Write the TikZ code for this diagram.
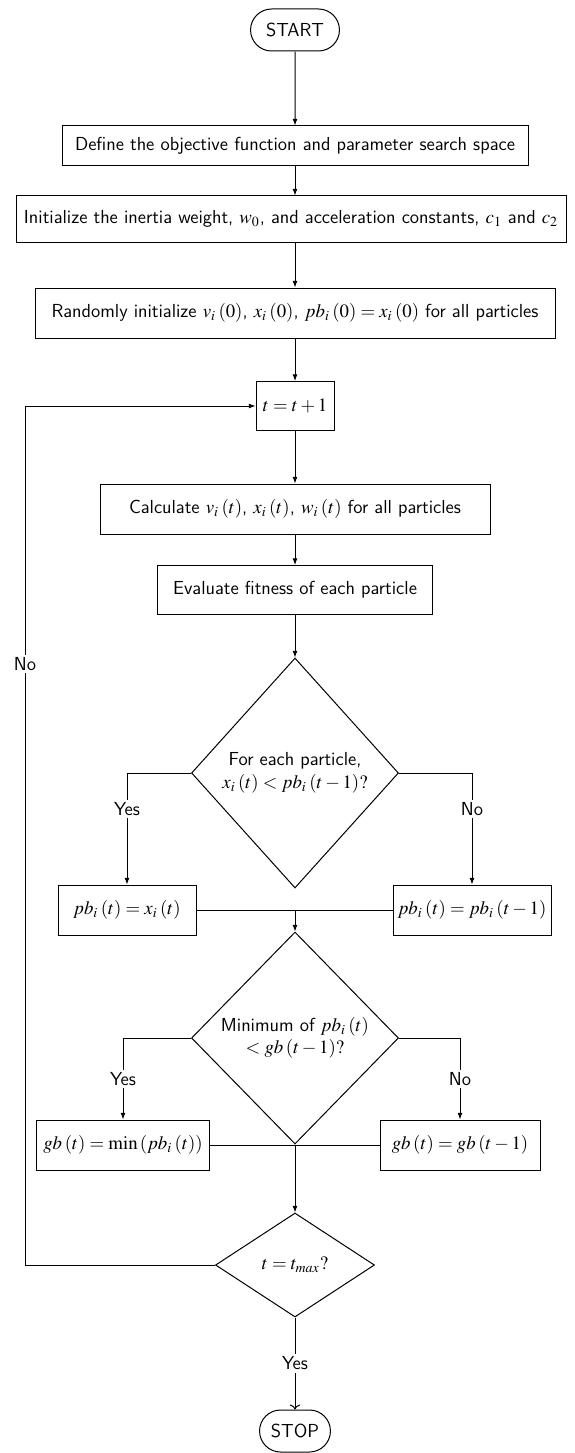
\documentclass[tikz,border=0pt]{standalone}
\usepackage{mathptmx}
\usetikzlibrary{shapes.geometric,shapes.misc,arrows.meta}
\newcommand\gp{\mkern2.5mu}
\begin{document}
\begin{tikzpicture}[x=0.6pt,y=-0.6pt,
  font=\sffamily\fontsize{11.3}{13.5}\selectfont,
  line width=0.6pt,
  box/.style={draw,rectangle,inner sep=1.5pt,align=center,minimum height=30pt},
  term/.style={draw,rounded rectangle,align=center,minimum width=60pt,minimum height=25.2pt},
  dec/.style={draw,diamond,inner sep=0pt,align=center},
  arr/.style={-{Latex[length=4pt,width=3pt]}},
  lbl/.style={fill=white,inner sep=1.5pt}]
\useasboundingbox (0,0) rectangle (575,1453);
\node[term] (start) at (295,30) {START};
\node[box,minimum width=279.6pt,minimum height=24pt] (define) at (295,146) {Define the objective function and parameter search space};
\node[box,minimum width=330pt,minimum height=27.6pt] (init) at (291,219) {Initialize the inertia weight, $w_0$, and acceleration constants, $c_1$ and $c_2$};
\node[box,minimum width=312pt] (rand) at (295,313) {Randomly initialize $v_i\gp(0)$, $x_i\gp(0)$, $pb_i\gp(0) = x_i\gp(0)$ for all particles};
\node[box,minimum width=46.8pt,minimum height=29.4pt] (tinc) at (295,406) {$t = t + 1$};
\node[box,minimum width=234pt] (calc) at (295,509) {Calculate $v_i\gp(t)$, $x_i\gp(t)$, $w_i\gp(t)$ for all particles};
\node[box,minimum width=165pt,minimum height=29.4pt] (eval) at (295,590) {Evaluate fitness of each particle};
\node[dec,minimum width=124.2pt,minimum height=138pt] (d1) at (295,773) {For each particle,\\ $x_i\gp(t) < pb_i\gp(t-1)?$};
\node[box,minimum width=82.8pt] (pbL) at (127,910) {$pb_i\gp(t) = x_i\gp(t)$};
\node[box,minimum width=94.8pt] (pbR) at (472,910) {$pb_i\gp(t) = pb_i\gp(t-1)$};
\node[dec,minimum width=124.2pt,minimum height=127.2pt] (d2) at (295,1038) {Minimum of $pb_i\gp(t)$\\ $<gb\gp(t-1)?$};
\node[box,minimum width=103.8pt] (gbL) at (123,1145) {$gb\gp(t) = \min\left(pb_i\gp(t)\right)$};
\node[box,minimum width=96pt] (gbR) at (460,1145) {$gb\gp(t) = gb\gp(t-1)$};
\node[dec,minimum width=95.4pt,minimum height=62.4pt] (d3) at (295,1265) {$t = t_{max}?$};
\node[term,minimum width=49.2pt] (stop) at (295,1431) {STOP};

\coordinate (m1) at (295,910);
\coordinate (m2) at (295,1145);
\coordinate (lb) at (25,1265);
\coordinate (lt) at (25,406);

\draw[arr] (start) -- (define);
\draw[arr] (define.south) -- (define.south |- init.north);
\draw[arr] (rand.north |- init.south) -- (rand.north);
\draw[arr] (rand) -- (tinc);
\draw[arr] (tinc) -- (calc);
\draw[arr] (calc) -- (eval);
\draw[arr] (eval) -- (d1);
\draw[arr] (d1.west) -| node[lbl,pos=0.66]{Yes} (pbL.north);
\draw[arr] (d1.east) -| node[lbl,pos=0.66]{No} (pbR.north);
\draw (pbL.east) -- (pbR.west);
\draw[arr] (m1) -- (d2.north);
\draw[arr] (d2.west) -| node[lbl,pos=0.75]{Yes} (gbL.north);
\draw[arr] (d2.east) -| node[lbl,pos=0.75]{No} (gbR.north);
\draw (gbL.east) -- (gbR.west);
\draw[arr] (m2) -- (d3.north);
\draw[-{To[length=3pt]}] (d3.south) -- node[lbl]{Yes} (stop.north);
\draw[arr] (d3.west) -- (lb) -- node[lbl,pos=0.7]{No} (lt) -- (tinc.west);
\end{tikzpicture}
\end{document}
